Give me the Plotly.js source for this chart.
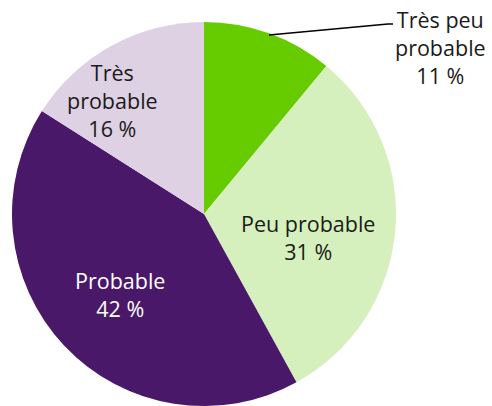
<!DOCTYPE html>
<html><head><meta charset="utf-8">
<script src="https://cdn.plot.ly/plotly-3.0.1.min.js"></script>
<style>html,body{margin:0;padding:0;background:#fff;}#chart{width:492px;height:406px;}</style>
</head><body><div id="chart"></div>
<script>
const categories = ['Très peu probable', 'Peu probable', 'Probable', 'Très probable'];
const values = [11, 31, 42, 16];
const labelLines = [['Très peu', 'probable'], ['Peu probable'], ['Probable'], ['Très', 'probable']];
const colors = ['#66CC00', '#D5F0BC', '#4A1868', '#DDD1E3'];
const textColors = ['#1a1a1a', '#1a1a1a', '#ffffff', '#1a1a1a'];

const W = 492, H = 406;
const labelPos = [[440, 48], [308, 238], [120, 294], [112, 101]];
const px = x => x / W, py = y => 1 - y / H;

const annotations = categories.map((c, i) => ({
  text: labelLines[i].concat([values[i] + ' %']).join('<br>'),
  x: px(labelPos[i][0]), y: py(labelPos[i][1]), xref: 'paper', yref: 'paper',
  showarrow: false, align: 'center', xanchor: 'center', yanchor: 'middle',
  font: {family: '"Open Sans", sans-serif', size: 21.5, color: textColors[i]}
}));

const data = [{
  type: 'pie', labels: categories, values: values, sort: false,
  direction: 'clockwise', rotation: 0,
  marker: {colors: colors, line: {width: 0}},
  textinfo: 'none', hoverinfo: 'none', showlegend: false,
  domain: {x: [px(12), px(396)], y: [py(406), py(22)]}
}];

const layout = {
  width: W, height: H, margin: {l: 0, r: 0, t: 0, b: 0},
  paper_bgcolor: '#fff', showlegend: false,
  annotations: annotations,
  shapes: [{type: 'path', xref: 'paper', yref: 'paper',
    path: `M ${px(269)} ${py(35)} L ${px(388)} ${py(24)} L ${px(393)} ${py(24)}`,
    line: {color: '#000', width: 1.5}}]
};
Plotly.newPlot('chart', data, layout, {displayModeBar: false, staticPlot: true});
</script></body></html>
